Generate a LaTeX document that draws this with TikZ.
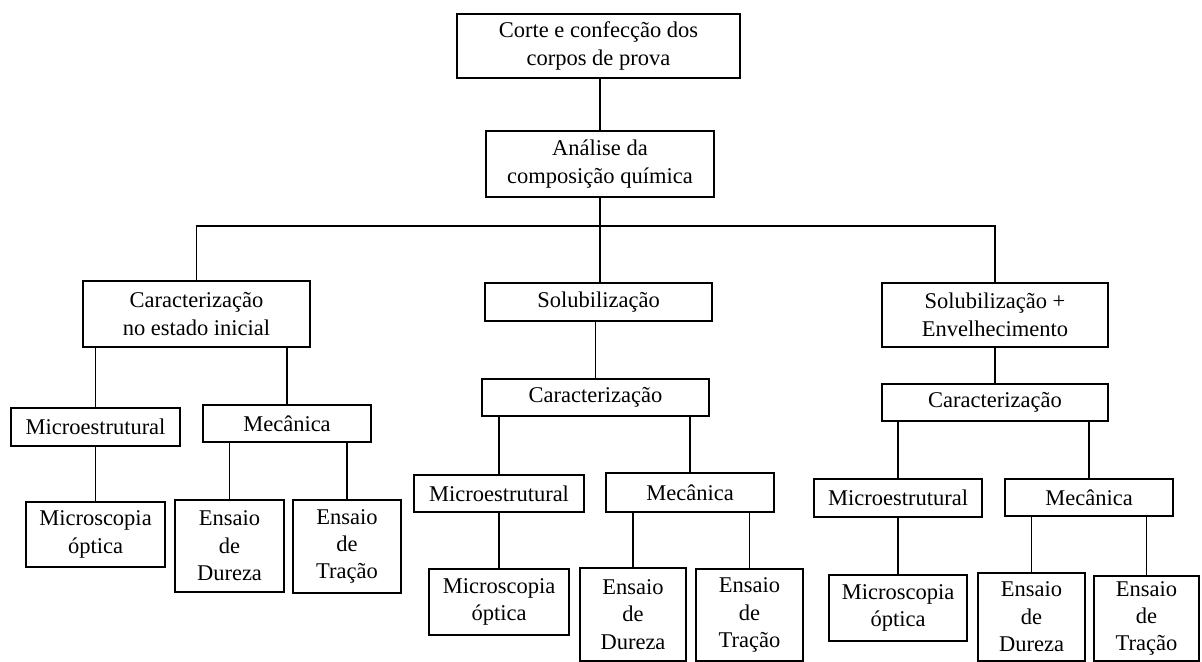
\documentclass[tikz,border=0pt]{standalone}
\usepackage{fontspec}
\setmainfont{Liberation Serif}

\begin{document}
\begin{tikzpicture}[x=0.025cm, y=-0.025cm, line width=1.3pt,
	box/.style 2 args={draw, align=center, inner sep=0pt, minimum width=#1*0.025cm, minimum height=#2*0.025cm, font=\fontsize{16}{19.5}\selectfont}]
	\useasboundingbox (0, 0) rectangle (1202, 662);

	\node[box={283}{64}] (corte) at (598.5, 46) {Corte e confecção dos \\ corpos de prova};
	\node[box={228}{66}] (analise) at (600, 164) {Análise da \\ composição química};
	\coordinate (bar) at (600, 226);

	\node[box={227}{66}] (inicial) at (196.5, 314) {Caracterização \\ no estado inicial};
	\node[box={227}{38}] (solub) at (598.5, 302) {Solubilização};
	\node[box={226}{64}] (envelh) at (995, 315) {Solubilização + \\ Envelhecimento};

	\node[box={169}{38}] (micA) at (95.5, 427) {Microestrutural};
	\node[box={168}{37}] (mecA) at (287, 423.5) {Mecânica};
	\node[box={139}{65}] (optA) at (95.5, 534.5) {Microscopia \\ óptica};
	\node[box={109}{92}] (durA) at (229.5, 546) {Ensaio \\ de \\ Dureza};
	\node[box={108}{93}] (traA) at (347, 546.5) {Ensaio \\ de \\ Tração};

	\node[box={227}{37}] (carB) at (595.5, 397.5) {Caracterização};
	\node[box={170}{37}] (micB) at (499, 493.5) {Microestrutural};
	\node[box={168}{39}] (mecB) at (690, 492.5) {Mecânica};
	\node[box={140}{66}] (optB) at (499, 602) {Microscopia \\ óptica};
	\node[box={106}{93}] (durB) at (633, 614.5) {Ensaio \\ de \\ Dureza};
	\node[box={107}{92}] (traB) at (749.5, 615) {Ensaio \\ de \\ Tração};

	\node[box={226}{37}] (carC) at (995, 402.5) {Caracterização};
	\node[box={168}{38}] (micC) at (898, 498) {Microestrutural};
	\node[box={168}{37}] (mecC) at (1089, 497.5) {Mecânica};
	\node[box={138}{66}] (optC) at (898, 608) {Microscopia \\ óptica};
	\node[box={107}{88}] (durC) at (1031.5, 617) {Ensaio \\ de \\ Dureza};
	\node[box={105}{85}] (traC) at (1146.5, 618.5) {Ensaio \\ de \\ Tração};

	\draw (analise.north) -- (analise.north |- corte.south);
	\draw (analise.south) -- (bar);
	\draw (inicial.north) |- (bar) -| (envelh.north);
	\draw (bar) -- (bar |- solub.north);

	\foreach \up/\down in {inicial/micA, inicial/mecA, micA/optA, mecA/durA, mecA/traA,
			solub/carB, carB/micB, carB/mecB, micB/optB, mecB/durB, mecB/traB,
			envelh/carC, carC/micC, carC/mecC, micC/optC, mecC/durC, mecC/traC}
		\draw (\down.north) -- (\down.north |- \up.south);
\end{tikzpicture}
\end{document}
